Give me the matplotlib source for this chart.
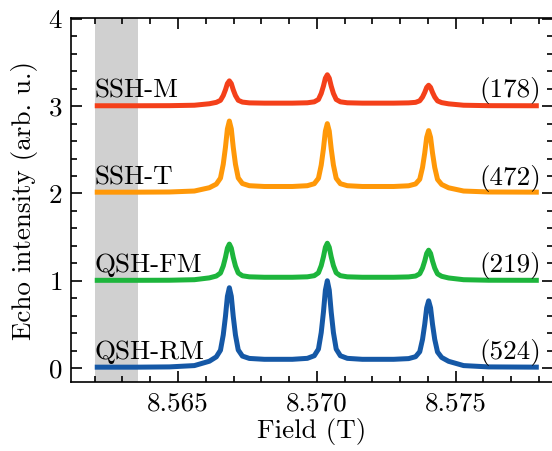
import matplotlib
matplotlib.use("Agg")
import matplotlib.pyplot as plt
from matplotlib.ticker import MultipleLocator, FixedLocator

plt.rcParams['font.family'] = ['cmr10', 'DejaVu Serif']
plt.rcParams['mathtext.fontset'] = 'cm'
plt.rcParams['axes.formatter.use_mathtext'] = True

# Field grid (T)
field = [8.5620, 8.5635, 8.56469, 8.56559, 8.56613, 8.56638, 8.56653, 8.56663,
         8.56671, 8.56678, 8.56685, 8.56692, 8.56699, 8.56707, 8.56717, 8.56732,
         8.56757, 8.56811, 8.56862,
         8.56912, 8.56966, 8.56991, 8.57006, 8.57016, 8.57024, 8.57031, 8.57038,
         8.57045, 8.57052, 8.57060, 8.57070, 8.57085, 8.57110, 8.57164, 8.57220,
         8.57277, 8.57331, 8.57356, 8.57371, 8.57381, 8.57389, 8.57396, 8.57403,
         8.57410, 8.57417, 8.57425, 8.57435, 8.57450, 8.57475, 8.57529, 8.57619,
         8.5780]

qsh_rm = [0.010, 0.010, 0.013, 0.028, 0.078, 0.128, 0.204, 0.379, 0.592, 0.822,
          0.920, 0.822, 0.592, 0.379, 0.207, 0.137, 0.110, 0.100, 0.100,
          0.100, 0.111, 0.141, 0.217, 0.406, 0.640, 0.892, 1.000, 0.892, 0.640,
          0.406, 0.217, 0.141, 0.111, 0.100, 0.100,
          0.100, 0.108, 0.130, 0.187, 0.328, 0.502, 0.690, 0.770, 0.690, 0.502,
          0.328, 0.184, 0.121, 0.077, 0.028, 0.013, 0.010]

qsh_fm = [0.005, 0.005, 0.006, 0.012, 0.033, 0.054, 0.088, 0.169, 0.268, 0.374,
          0.420, 0.374, 0.268, 0.169, 0.089, 0.057, 0.045, 0.040, 0.040,
          0.040, 0.045, 0.058, 0.091, 0.173, 0.274, 0.383, 0.430, 0.383, 0.274,
          0.173, 0.091, 0.058, 0.045, 0.040, 0.040,
          0.040, 0.044, 0.054, 0.080, 0.145, 0.226, 0.313, 0.350, 0.313, 0.226,
          0.145, 0.079, 0.051, 0.032, 0.012, 0.006, 0.005]

ssh_t = [0.015, 0.015, 0.017, 0.028, 0.066, 0.107, 0.176, 0.335, 0.530, 0.740,
         0.830, 0.740, 0.530, 0.335, 0.178, 0.114, 0.089, 0.080, 0.080,
         0.080, 0.089, 0.112, 0.174, 0.325, 0.512, 0.714, 0.800, 0.714, 0.512,
         0.325, 0.174, 0.112, 0.089, 0.080, 0.080,
         0.080, 0.088, 0.109, 0.163, 0.298, 0.464, 0.643, 0.720, 0.643, 0.464,
         0.298, 0.161, 0.103, 0.065, 0.028, 0.017, 0.015]

ssh_m = [0.005, 0.005, 0.006, 0.011, 0.028, 0.044, 0.067, 0.122, 0.188, 0.259,
         0.290, 0.259, 0.188, 0.122, 0.068, 0.047, 0.038, 0.035, 0.035,
         0.035, 0.039, 0.050, 0.077, 0.146, 0.230, 0.321, 0.360, 0.321, 0.230,
         0.146, 0.077, 0.050, 0.039, 0.035, 0.035,
         0.035, 0.038, 0.044, 0.062, 0.105, 0.158, 0.215, 0.240, 0.215, 0.158,
         0.105, 0.061, 0.041, 0.027, 0.011, 0.006, 0.005]

names = ['QSH-RM', 'QSH-FM', 'SSH-T', 'SSH-M']
counts = ['(524)', '(219)', '(472)', '(178)']
offsets = [0, 1, 2, 3]
series = [qsh_rm, qsh_fm, ssh_t, ssh_m]
colors = ['#1558A6', '#1DB53C', '#FF9808', '#F4401A']

shade_range = (8.5620, 8.56356)
x_ticks = [8.565, 8.570, 8.575]
x_ticklabels = ['8.565', '8.570', '8.575']

FS = 19.5

fig = plt.figure(figsize=(5.52, 4.51), dpi=100)
ax = fig.add_axes([0.1286, 0.153, 0.8734, 0.807])

ax.axvspan(shade_range[0], shade_range[1], color='#d0d0d0', lw=0, zorder=0)

for vals, off, c, name, cnt in zip(series, offsets, colors, names, counts):
    ax.plot(field, [v + off for v in vals], color=c, lw=3.6, solid_capstyle='butt', zorder=2)
    ax.text(8.5620, off + 0.1, name, ha='left', va='baseline', fontsize=FS, zorder=3)
    ax.text(8.57808, off + 0.1, cnt, ha='right', va='baseline', fontsize=FS, zorder=3)

ax.set_xlim(8.561144, 8.578515)
ax.set_ylim(-0.16, 4.01)
ax.xaxis.set_major_locator(FixedLocator(x_ticks))
ax.set_xticklabels(x_ticklabels)
ax.xaxis.set_minor_locator(MultipleLocator(0.001))
ax.yaxis.set_major_locator(MultipleLocator(1))
ax.yaxis.set_minor_locator(MultipleLocator(0.2))
ax.tick_params(which='both', direction='in', top=True, right=True, width=1.2)
ax.tick_params(which='major', length=8, labelsize=FS)
ax.tick_params(axis='x', which='major', pad=7)
ax.tick_params(axis='y', which='major', pad=6)
ax.tick_params(which='minor', length=4.5)
for s in ax.spines.values():
    s.set_linewidth(1.2)

ax.set_xlabel('Field (T)', fontsize=FS, labelpad=2)
ax.set_ylabel('Echo intensity (arb. u.)', fontsize=FS, labelpad=7)

fig.savefig('out.png', dpi=100)
